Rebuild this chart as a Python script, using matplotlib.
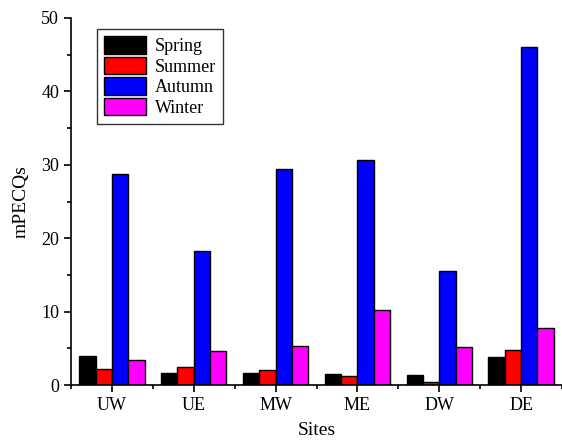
import matplotlib
matplotlib.use("Agg")
import matplotlib.pyplot as plt
import numpy as np
from matplotlib.ticker import MultipleLocator

plt.rcParams["font.family"] = ["Liberation Serif", "DejaVu Serif"]

sites = ["UW", "UE", "MW", "ME", "DW", "DE"]
seasons = ["Spring", "Summer", "Autumn", "Winter"]
colors = ["#000000", "#ff0000", "#0000ff", "#ff00ff"]

spring = [4.0, 1.7, 1.7, 1.5, 1.35, 3.75]
summer = [2.2, 2.4, 2.0, 1.2, 0.4, 4.75]
autumn = [28.8, 18.3, 29.4, 30.7, 15.5, 46.1]
winter = [3.35, 4.6, 5.3, 10.25, 5.2, 7.75]
series = [spring, summer, autumn, winter]

fig = plt.figure(figsize=(5.62, 4.42), dpi=100)
ax = fig.add_axes([71 / 562, 1 - 385 / 442, 491 / 562, 367 / 442])

x = np.arange(len(sites))
w = 0.2
for i, (vals, name, c) in enumerate(zip(series, seasons, colors)):
    ax.bar(x + (i - 1.5) * w, vals, w, color=c, edgecolor="black",
           linewidth=1.0, label=name)

ax.set_xlim(-0.5, len(sites) - 0.5)
ax.set_ylim(0, 50)
ax.set_xticks(x)
ax.set_xticklabels(sites)
ax.set_xticks(np.arange(-0.5, len(sites)), minor=True)
ax.yaxis.set_major_locator(MultipleLocator(10))
ax.yaxis.set_minor_locator(MultipleLocator(5))
for s in ["top", "right"]:
    ax.spines[s].set_visible(False)
for s in ["left", "bottom"]:
    ax.spines[s].set_linewidth(1.2)
ax.tick_params(which="major", direction="out", length=5, width=1.2,
               labelsize=13)
ax.tick_params(which="minor", direction="out", length=3, width=1.2)
ax.set_xlabel("Sites", fontsize=14, labelpad=6)
ax.set_ylabel("mPECQs", fontsize=14, labelpad=8)

leg = ax.legend(loc="upper left", bbox_to_anchor=(0.053, 0.97), fontsize=13,
                frameon=True, fancybox=False, edgecolor="black",
                borderaxespad=0, handlelength=2.3, handleheight=1.1,
                handletextpad=0.5, labelspacing=0.1, borderpad=0.4,
                shadow=False)
leg.get_frame().set_linewidth(1.0)

fig.savefig("out.png", dpi=100)
